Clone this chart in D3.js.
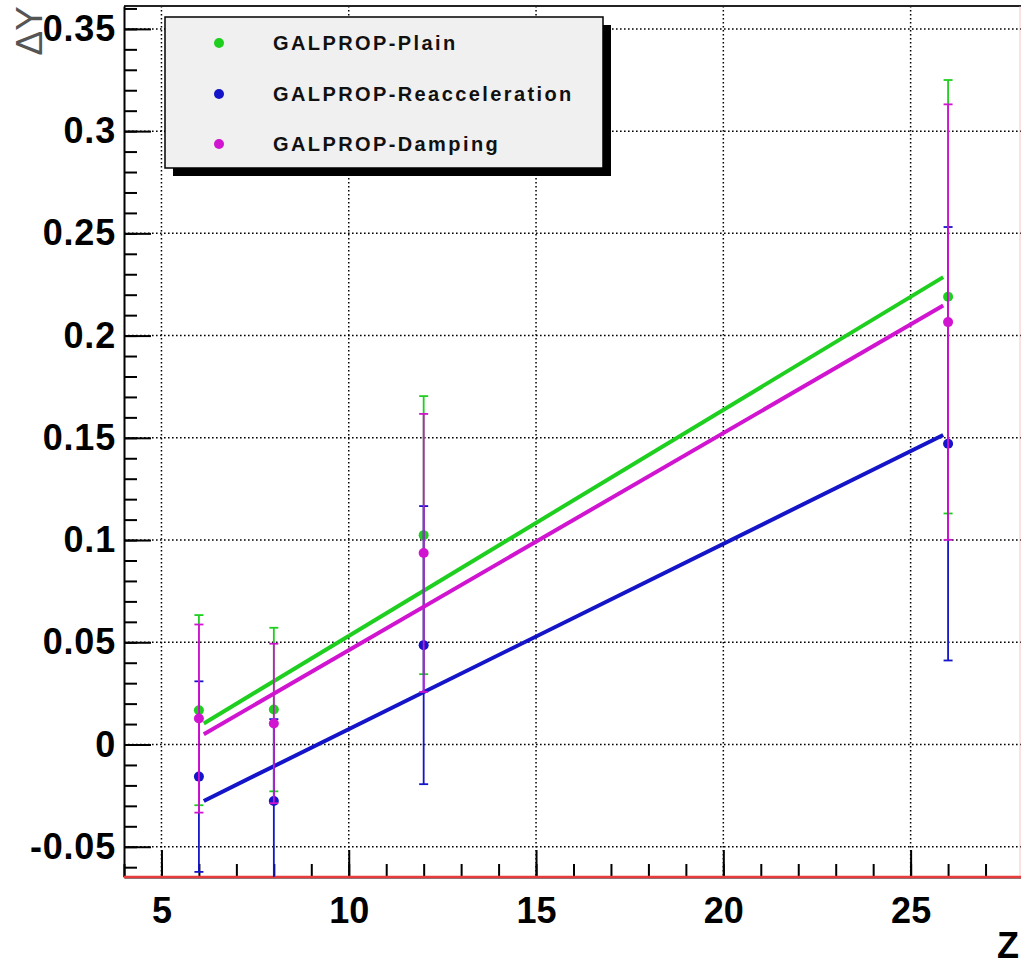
<!DOCTYPE html>
<html>
<head>
<meta charset="utf-8">
<script src="https://cdn.jsdelivr.net/npm/d3@7"></script>
<style>
  html, body { margin: 0; padding: 0; background: #ffffff; }
  svg { display: block; }
  text { font-family: "Liberation Sans", Arial, Helvetica, sans-serif; }
</style>
</head>
<body>
<svg id="chart" width="1021" height="967"></svg>
<script>
// Atomic number of each measured element
const zValues = [6, 8, 12, 26];

// Delta-Y per model, with symmetric errors
const plainY   = [0.0168, 0.0171, 0.1024, 0.2190];
const plainErr = [0.0465, 0.0400, 0.0680, 0.1060];
const reaccY   = [-0.0157, -0.0276, 0.0486, 0.1471];
const reaccErr = [0.0466, 0.0400, 0.0680, 0.1060];
const dampY    = [0.0127, 0.0103, 0.0937, 0.2066];
const dampErr  = [0.0460, 0.0390, 0.0680, 0.1065];

// Linear fits: value at each end of the fit range
const fitRange = [6.13, 25.87];
const plainFit = [0.0103, 0.2286];
const reaccFit = [-0.0276, 0.1514];
const dampFit  = [0.0050, 0.2147];

const seriesNames  = ["GALPROP-Plain", "GALPROP-Reacceleration", "GALPROP-Damping"];
const seriesColors = ["#1fcf1f", "#1414c8", "#d014d0"];

const yMajorTicks = [-0.05, 0, 0.05, 0.1, 0.15, 0.2, 0.25, 0.3, 0.35];
const yTickLabels = ["-0.05", "0", "0.05", "0.1", "0.15", "0.2", "0.25", "0.3", "0.35"];
const xMajorTicks = [5, 10, 15, 20, 25];
const xTickLabels = ["5", "10", "15", "20", "25"];

const series = [
  { y: plainY, err: plainErr, fit: plainFit },
  { y: reaccY, err: reaccErr, fit: reaccFit },
  { y: dampY,  err: dampErr,  fit: dampFit }
];

const plotLeft = 124, plotRight = 1023, plotTop = 6, plotBottom = 877;

const x = d3.scaleLinear().domain([4, 28]).range([plotLeft, plotRight]);
const y = d3.scaleLinear().domain([-0.0648, 0.3612]).range([plotBottom, plotTop]);

const svg = d3.select("#chart");
svg.append("rect").attr("width", 1021).attr("height", 967).attr("fill", "#ffffff");

svg.append("defs").append("clipPath").attr("id", "plotClip")
  .append("rect").attr("x", plotLeft).attr("y", plotTop)
  .attr("width", plotRight - plotLeft).attr("height", plotBottom - plotTop);

// Dotted grid at the major ticks
const grid = svg.append("g");
grid.selectAll("line.gx").data(xMajorTicks).join("line")
  .attr("x1", d => x(d)).attr("x2", d => x(d))
  .attr("y1", plotTop).attr("y2", plotBottom)
  .attr("stroke", "#000").attr("stroke-width", 1.5)
  .attr("stroke-dasharray", "1.6,2.4");
grid.selectAll("line.gy").data(yMajorTicks).join("line")
  .attr("x1", plotLeft).attr("x2", plotRight)
  .attr("y1", d => y(d)).attr("y2", d => y(d))
  .attr("stroke", "#000").attr("stroke-width", 1.5)
  .attr("stroke-dasharray", "1.6,2.4");

// Frame: top edge and faint right edge
svg.append("line").attr("x1", plotLeft).attr("x2", plotRight).attr("y1", plotTop).attr("y2", plotTop)
  .attr("stroke", "#222").attr("stroke-width", 2);
svg.append("line").attr("x1", 1020).attr("x2", 1020).attr("y1", plotTop).attr("y2", plotBottom)
  .attr("stroke", "#f2a0a0").attr("stroke-width", 1).attr("opacity", 0.6);

// Y axis: ticks point inward, labels on the left
const yMinorTicks = d3.range(-6, 37).map(i => i / 100);
svg.append("g").attr("transform", `translate(${plotLeft},0)`)
  .call(d3.axisLeft(y).tickValues(yMinorTicks).tickSize(-13).tickSizeOuter(0).tickFormat(""))
  .call(g => g.selectAll("line").attr("stroke", "#000").attr("stroke-width", 2))
  .call(g => g.select(".domain").remove());
const yAxis = svg.append("g").attr("transform", `translate(${plotLeft},0)`)
  .call(d3.axisLeft(y).tickValues(yMajorTicks).tickSize(-27).tickSizeOuter(0).tickPadding(8)
    .tickFormat((d, i) => yTickLabels[i]));
yAxis.select(".domain").attr("stroke", "#000").attr("stroke-width", 2);
yAxis.selectAll("line").attr("stroke", "#000").attr("stroke-width", 2);
yAxis.selectAll("text").attr("font-size", 36).attr("font-weight", "bold")
  .attr("fill", "#000").attr("letter-spacing", 0.8)
  .attr("font-family", "'Liberation Sans', Arial, sans-serif");

// X axis: ticks point inward, labels below
const xMinorTicks = d3.range(4, 29);
svg.append("g").attr("transform", `translate(0,${plotBottom})`)
  .call(d3.axisBottom(x).tickValues(xMinorTicks).tickSize(-13).tickSizeOuter(0).tickFormat(""))
  .call(g => g.selectAll("line").attr("stroke", "#000").attr("stroke-width", 2))
  .call(g => g.select(".domain").remove());
const xAxis = svg.append("g").attr("transform", `translate(0,${plotBottom})`)
  .call(d3.axisBottom(x).tickValues(xMajorTicks).tickSize(-27).tickSizeOuter(0).tickPadding(20)
    .tickFormat((d, i) => xTickLabels[i]));
xAxis.select(".domain").attr("stroke", "#000").attr("stroke-width", 2);
xAxis.selectAll("line").attr("stroke", "#000").attr("stroke-width", 2);
xAxis.selectAll("text").attr("font-size", 36).attr("font-weight", "bold")
  .attr("fill", "#000")
  .attr("font-family", "'Liberation Sans', Arial, sans-serif");

// Red baseline along the bottom edge
svg.append("line").attr("x1", plotLeft).attr("x2", 1021).attr("y1", plotBottom).attr("y2", plotBottom)
  .attr("stroke", "#e83c3c").attr("stroke-width", 2.4);

// Graphs: error bars, points and fitted lines
const plot = svg.append("g").attr("clip-path", "url(#plotClip)");
const capHalf = 4.5;
series.forEach((s, k) => {
  const color = seriesColors[k];
  const g = plot.append("g");
  const pts = zValues.map((z, i) => ({ z, v: s.y[i], e: s.err[i] }));

  g.selectAll("line.bar").data(pts).join("line")
    .attr("x1", d => x(d.z)).attr("x2", d => x(d.z))
    .attr("y1", d => y(d.v + d.e)).attr("y2", d => y(d.v - d.e))
    .attr("stroke", color).attr("stroke-width", 1.8);
  g.selectAll("line.capTop").data(pts).join("line")
    .attr("x1", d => x(d.z) - capHalf).attr("x2", d => x(d.z) + capHalf)
    .attr("y1", d => y(d.v + d.e)).attr("y2", d => y(d.v + d.e))
    .attr("stroke", color).attr("stroke-width", 1.8);
  g.selectAll("line.capBot").data(pts).join("line")
    .attr("x1", d => x(d.z) - capHalf).attr("x2", d => x(d.z) + capHalf)
    .attr("y1", d => y(d.v - d.e)).attr("y2", d => y(d.v - d.e))
    .attr("stroke", color).attr("stroke-width", 1.8);
  g.selectAll("circle").data(pts).join("circle")
    .attr("cx", d => x(d.z)).attr("cy", d => y(d.v)).attr("r", 5)
    .attr("fill", color);

  g.append("line")
    .attr("x1", x(fitRange[0])).attr("y1", y(s.fit[0]))
    .attr("x2", x(fitRange[1])).attr("y2", y(s.fit[1]))
    .attr("stroke", color).attr("stroke-width", 4);
});

// Legend with drop shadow
const lg = svg.append("g");
lg.append("rect").attr("x", 173).attr("y", 25).attr("width", 438).attr("height", 151).attr("fill", "#000");
lg.append("rect").attr("x", 165).attr("y", 17).attr("width", 438).attr("height", 151)
  .attr("fill", "#f0f0f0").attr("stroke", "#000").attr("stroke-width", 1.5);
const legendY = [43, 94, 144];
seriesNames.forEach((name, k) => {
  lg.append("circle").attr("cx", 219).attr("cy", legendY[k]).attr("r", 5).attr("fill", seriesColors[k]);
  lg.append("text").attr("x", 273).attr("y", legendY[k] + 7)
    .attr("font-size", 20).attr("font-weight", "bold").attr("letter-spacing", 2.4)
    .attr("fill", "#111").text(name);
});

// Axis titles
svg.append("text")
  .attr("transform", "translate(42,6) rotate(-90)")
  .attr("text-anchor", "end")
  .attr("font-size", 37).attr("fill", "#555")
  .text("ΔY");
svg.append("text").attr("x", 1019).attr("y", 958).attr("text-anchor", "end")
  .attr("font-size", 36).attr("font-weight", "bold").attr("fill", "#000").text("Z");
</script>
</body>
</html>
